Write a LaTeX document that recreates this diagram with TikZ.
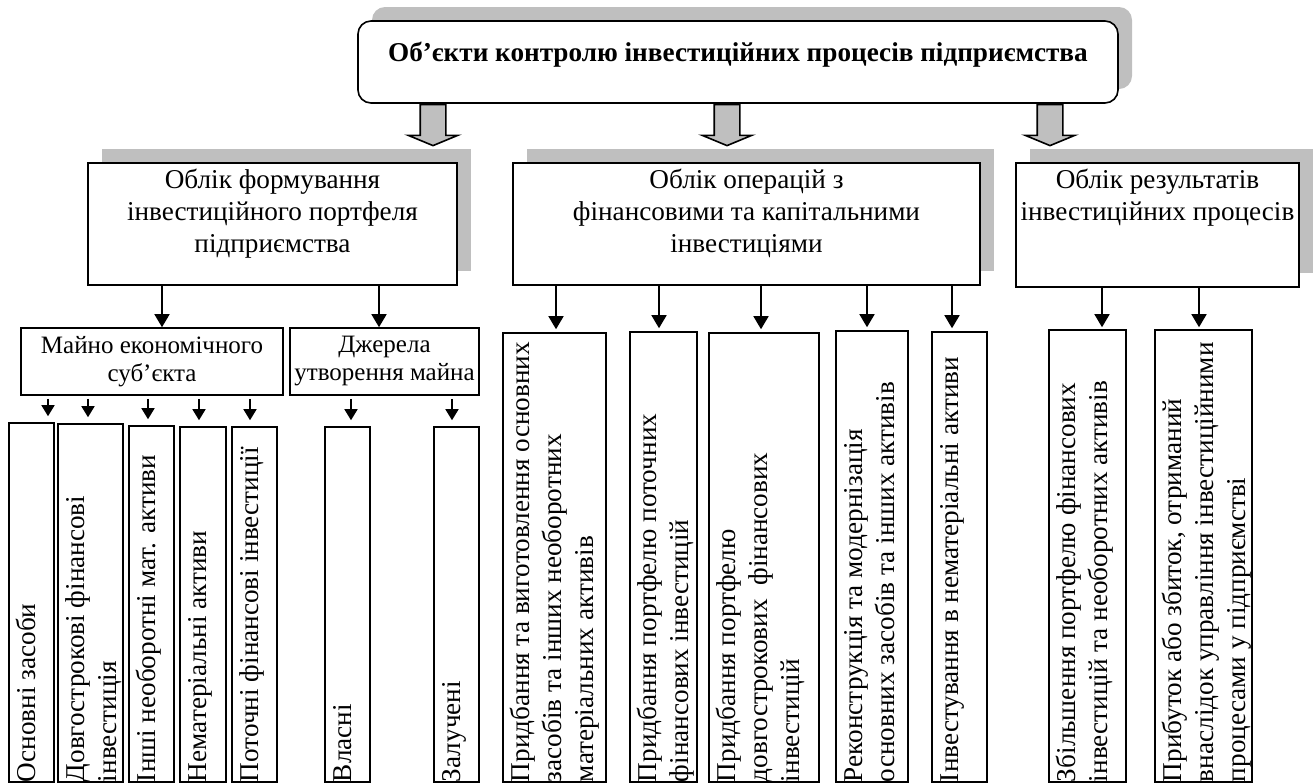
\documentclass[tikz,border=0pt]{standalone}
\usepackage{fontspec}
\setmainfont{Liberation Serif}
\usetikzlibrary{arrows.meta,shapes.arrows,shadows}

\begin{document}
\begin{tikzpicture}[x=0.5pt, y=-0.5pt, font=\fontsize{13.6}{16}\selectfont,
    box/.style={draw, line width=0.8pt, fill=white, inner sep=0pt},
    shaded/.style={box, drop shadow={shadow xshift=7pt, shadow yshift=7pt, fill=black!25, opacity=1}},
    link/.style={line width=0.8pt, -{Triangle[width=7.5pt, length=6.5pt]}},
    sublink/.style={line width=0.8pt, shorten <=1.5pt, shorten >=3pt, -{Triangle[width=6.5pt, length=5.5pt]}},
    fatarrow/.style={single arrow, draw, line width=0.8pt, fill=black!25, rotate=-90, anchor=tail, yshift=-1pt,
        inner xsep=0pt, inner ysep=6pt, minimum height=20.5pt, single arrow head extend=6pt, single arrow tip angle=135}]

    \useasboundingbox (0,0) rectangle (1315,783);
    \clip (0,0) rectangle (1315,783);

    % Objects of control
    \node[shaded, rounded corners=6.5pt, minimum width=380pt, minimum height=41pt, text height=9.5pt, text depth=10.5pt]
        (obj) at (738,62) {\textbf{Об’єкти контролю інвестиційних процесів підприємства}};

    % Gray arrows
    \foreach \n/\x in {fa/435, fb/729, fc/1052}
        \node[fatarrow] (\n) at (obj.south -| \x,0) {};

    % Accounting boxes
    \node[shaded] (form) at (272.5,224) {\parbox[c][61pt][t]{184.5pt}{\centering\vspace*{1.5pt}%
        \begin{tabular}{@{}c@{}}Облік формування\\ інвестиційного портфеля\\ підприємства\end{tabular}}};
    \node[shaded] (oper) at (746.5,224) {\parbox[c][61pt][t]{233.5pt}{\centering\vspace*{1.5pt}%
        \begin{tabular}{@{}c@{}}Облік операцій з\\ фінансовими та капітальними\\ інвестиціями\end{tabular}}};
    \node[shaded] (res) at (1157.5,225) {\parbox[c][62pt][t]{141.5pt}{\centering\vspace*{1.5pt}%
        \begin{tabular}{@{}c@{}}Облік результатів\\ інвестиційних процесів\end{tabular}}};

    % Property and sources
    \node[box, minimum width=131pt, minimum height=33.5pt, align=center, font=\fontsize{12.5}{14}\selectfont]
        (maino) at (152,361.5) {Майно економічного\\ суб’єкта};
    \node[box, minimum width=94.5pt, minimum height=33.5pt, align=center, font=\fontsize{12.5}{14}\selectfont]
        (dzh) at (384.5,361.5) {Джерела\\ утворення майна};

    % Vertical boxes
    \foreach \n/\l/\r/\t/\txt in {
        l1/9/54/423/{Основні засоби},
        l2/58/123/424/{Довгострокові фінансові\\ інвестиція},
        l3/129/174/426/{Інші необоротні мат. активи},
        l4/180/226/427/{Нематеріальні активи},
        l5/232/277/427/{Поточні фінансові інвестиції},
        l6/325/370/427/{Власні},
        l7/434/479/427/{Залучені},
        m1/503/606/333/{Придбання та виготовлення основних\\ засобів та інших необоротних\\ матеріальних активів},
        m2/630/697/332/{Придбання портфелю поточних\\ фінансових інвестицій},
        m3/709/819/333/{Придбання портфелю\\ довгострокових\ \ фінансових\\ інвестицій},
        m4/836/908/331/{Реконструкція та модернізація\\ основних засобів та інших активів},
        m5/932/987/332/{Інвестування в нематеріальні активи},
        r1/1049/1126/330/{Збільшення портфелю фінансових\\ інвестицій та необоротних активів},
        r2/1155/1252/330/{Прибуток або збиток, отриманий\\ внаслідок управління інвестиційними\\ процесами у підприємстві}} {
        \pgfmathsetmacro\boxw{(\r-\l)/2}
        \pgfmathsetmacro\boxl{(782-\t)/2}
        \node[box, rotate=90] (\n) at ({(\l+\r)/2},{(\t+782)/2})
            {\parbox[c][\boxw pt][t]{\boxl pt}{\vspace*{2pt}\begin{tabular}{@{}l@{}}\txt\end{tabular}}};
    }

    % Arrows
    \draw[link] (form.south -| 162,0) -- (maino.north -| 162,0);
    \draw[link] (form.south -| 379,0) -- (dzh.north -| 379,0);
    \foreach \n/\x in {m1/556, m2/659, m3/761, m4/867, m5/952}
        \draw[link, shorten >=1.5pt] (oper.south -| \x,0) -- (\n.east -| \x,0);
    \foreach \n/\x in {r1/1102, r2/1199}
        \draw[link, shorten >=1pt] (res.south -| \x,0) -- (\n.east -| \x,0);
    \foreach \n/\x in {l1/48, l2/88, l3/148, l4/199, l5/250}
        \draw[sublink] (maino.south -| \x,0) -- (\n.east -| \x,0);
    \foreach \n/\x in {l6/351, l7/452}
        \draw[sublink] (dzh.south -| \x,0) -- (\n.east -| \x,0);
\end{tikzpicture}
\end{document}
